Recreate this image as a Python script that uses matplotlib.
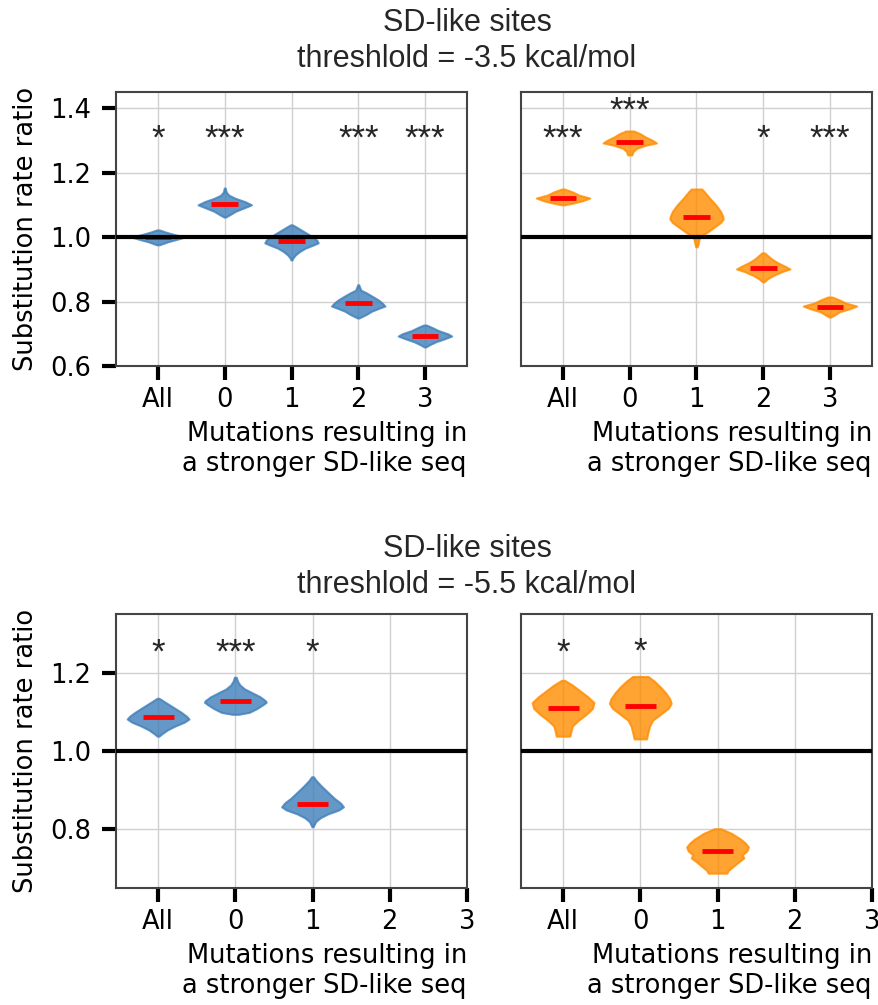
import numpy as np
import matplotlib
matplotlib.use('Agg')
import matplotlib.pyplot as plt

plt.rcParams['font.family'] = ['DejaVu Sans']

labels = ['All', '0', '1', '2', '3']
blue = '#3f7fba'
orange = '#ff8c00'

# violin outlines: y values and relative half widths
t35_blue_y = [[1.022, 1.015, 1.008, 1.0, 0.993, 0.985, 0.976],
              [1.152, 1.14, 1.13, 1.12, 1.11, 1.10, 1.09, 1.08, 1.07, 1.062],
              [1.038, 1.03, 1.02, 1.01, 1.0, 0.99, 0.982, 0.975, 0.965, 0.955, 0.945, 0.935, 0.929],
              [0.852, 0.845, 0.835, 0.827, 0.815, 0.805, 0.795, 0.786, 0.78, 0.77, 0.76, 0.749],
              [0.727, 0.72, 0.71, 0.70, 0.693, 0.685, 0.675, 0.665, 0.659]]
t35_blue_w = [[0.05, 0.3, 0.6, 1.0, 0.7, 0.35, 0.05],
              [0.02, 0.05, 0.15, 0.4, 0.75, 1.0, 0.7, 0.4, 0.2, 0.03],
              [0.03, 0.2, 0.4, 0.6, 0.8, 0.95, 1.0, 0.8, 0.5, 0.3, 0.15, 0.05, 0.02],
              [0.02, 0.05, 0.1, 0.3, 0.55, 0.75, 0.9, 1.0, 0.8, 0.5, 0.3, 0.03],
              [0.05, 0.25, 0.5, 0.85, 1.0, 0.75, 0.4, 0.15, 0.03]]
t35_blue_med = [1.0, 1.103, 0.988, 0.796, 0.693]
t35_blue_stars = ['*', '***', '', '***', '***']

t35_orange_y = [[1.149, 1.14, 1.13, 1.121, 1.112, 1.105, 1.10],
                [1.329, 1.32, 1.31, 1.30, 1.292, 1.285, 1.275, 1.265, 1.255],
                [1.149, 1.14, 1.12, 1.10, 1.08, 1.065, 1.056, 1.045, 1.03, 1.015, 1.005, 0.995, 0.98, 0.97],
                [0.951, 0.94, 0.93, 0.92, 0.91, 0.901, 0.893, 0.88, 0.87, 0.861],
                [0.814, 0.805, 0.795, 0.786, 0.778, 0.768, 0.76, 0.752]]
t35_orange_w = [[0.05, 0.35, 0.6, 1.0, 0.7, 0.35, 0.05],
                [0.15, 0.4, 0.6, 0.85, 1.0, 0.6, 0.25, 0.12, 0.08],
                [0.2, 0.3, 0.5, 0.72, 0.9, 0.98, 1.0, 0.9, 0.65, 0.4, 0.2, 0.1, 0.06, 0.03],
                [0.05, 0.2, 0.35, 0.55, 0.8, 1.0, 0.7, 0.35, 0.15, 0.03],
                [0.08, 0.35, 0.6, 1.0, 0.75, 0.35, 0.2, 0.03]]
t35_orange_med = [1.121, 1.295, 1.062, 0.904, 0.783]
t35_orange_stars = ['***', '***', '', '*', '***']

t55_blue_y = [[1.136, 1.13, 1.12, 1.11, 1.10, 1.09, 1.083, 1.075, 1.065, 1.055, 1.045, 1.039],
              [1.19, 1.18, 1.17, 1.16, 1.15, 1.14, 1.13, 1.126, 1.12, 1.11, 1.10, 1.095],
              [0.935, 0.925, 0.91, 0.895, 0.88, 0.868, 0.858, 0.85, 0.84, 0.83, 0.82, 0.807]]
t55_blue_w = [[0.03, 0.15, 0.35, 0.55, 0.75, 0.92, 1.0, 0.85, 0.55, 0.3, 0.12, 0.03],
              [0.03, 0.07, 0.15, 0.3, 0.55, 0.8, 0.97, 1.0, 0.9, 0.7, 0.45, 0.1],
              [0.03, 0.12, 0.3, 0.5, 0.7, 0.9, 1.0, 0.85, 0.5, 0.25, 0.1, 0.02]]
t55_blue_med = [1.088, 1.128, 0.866]
t55_blue_stars = ['*', '***', '*']

t55_orange_y = [[1.182, 1.17, 1.155, 1.14, 1.125, 1.11, 1.095, 1.08, 1.065, 1.05, 1.039],
                [1.192, 1.18, 1.165, 1.15, 1.135, 1.123, 1.11, 1.095, 1.08, 1.065, 1.05, 1.032],
                [0.802, 0.79, 0.775, 0.765, 0.755, 0.745, 0.735, 0.727, 0.718, 0.705, 0.695, 0.688]]
t55_orange_w = [[0.05, 0.3, 0.55, 0.8, 1.0, 0.95, 0.75, 0.5, 0.3, 0.25, 0.22],
                [0.25, 0.45, 0.65, 0.82, 0.95, 1.0, 0.9, 0.65, 0.4, 0.3, 0.25, 0.2],
                [0.1, 0.45, 0.75, 0.9, 1.0, 0.95, 0.8, 0.85, 0.7, 0.5, 0.35, 0.3]]
t55_orange_med = [1.110, 1.116, 0.744]
t55_orange_stars = ['*', '*', '']


def draw_violins(ax, ys, ws, meds, color):
    stats = []
    for y, w, m in zip(ys, ws, meds):
        stats.append({'coords': np.array(y), 'vals': np.array(w), 'mean': m,
                      'median': m, 'min': min(y), 'max': max(y)})
    parts = ax.violin(stats, positions=range(len(stats)), widths=0.8,
                      showmeans=False, showextrema=False, showmedians=True)
    for pc in parts['bodies']:
        pc.set_facecolor(color)
        pc.set_edgecolor(color)
        pc.set_alpha(0.8)
        pc.set_linewidth(1.5)
        pc.set_zorder(2)
    parts['cmedians'].set_color('red')
    parts['cmedians'].set_linewidth(3.5)
    parts['cmedians'].set_zorder(3)


def add_stars(ax, ys, stars, base):
    for i, (y, s) in enumerate(zip(ys, stars)):
        if s:
            ax.text(i, max(base, max(y) + 0.062), s, ha='center', va='center',
                    fontsize=25, family='Liberation Sans', color='#262626')


def style_axis(ax, left):
    ax.grid(True, color='#d0d0d0', lw=1)
    ax.set_axisbelow(True)
    for sp in ax.spines.values():
        sp.set_color('#444444')
        sp.set_linewidth(1.5)
    ax.tick_params(axis='both', length=10, width=3, color='black', labelsize=18.5)
    ax.tick_params(axis='x', pad=5)
    ax.tick_params(axis='y', pad=8)
    ax.axhline(1.0, color='black', lw=3, zorder=4)
    ax.set_xticks(range(5))
    ax.set_xticklabels(labels)
    ax.set_xlabel('Mutations resulting in\na stronger SD-like seq', fontsize=18.5,
                  loc='right', labelpad=6)
    if left:
        ax.set_ylabel('Substitution rate ratio', fontsize=18.5, labelpad=8)
    else:
        ax.tick_params(axis='y', left=False, labelleft=False)


fig = plt.figure(figsize=(8.79, 10.05), dpi=100)
w = 351 / 879
h = 274 / 1005
ax1 = fig.add_axes([116 / 879, 1 - 366 / 1005, w, h])
ax2 = fig.add_axes([521 / 879, 1 - 366 / 1005, w, h])
ax3 = fig.add_axes([116 / 879, 1 - 888 / 1005, w, h])
ax4 = fig.add_axes([521 / 879, 1 - 888 / 1005, w, h])

draw_violins(ax1, t35_blue_y, t35_blue_w, t35_blue_med, blue)
draw_violins(ax2, t35_orange_y, t35_orange_w, t35_orange_med, orange)
draw_violins(ax3, t55_blue_y, t55_blue_w, t55_blue_med, blue)
draw_violins(ax4, t55_orange_y, t55_orange_w, t55_orange_med, orange)

add_stars(ax1, t35_blue_y, t35_blue_stars, 1.305)
add_stars(ax2, t35_orange_y, t35_orange_stars, 1.305)
add_stars(ax3, t55_blue_y, t55_blue_stars, 1.253)
add_stars(ax4, t55_orange_y, t55_orange_stars, 1.253)

for ax, left in [(ax1, True), (ax2, False), (ax3, True), (ax4, False)]:
    style_axis(ax, left)

for ax in [ax1, ax2]:
    ax.set_ylim(0.6, 1.45)
    ax.set_yticks([0.6, 0.8, 1.0, 1.2, 1.4])
    ax.set_xlim(-0.63, 4.63)
for ax in [ax3, ax4]:
    ax.set_ylim(0.65, 1.352)
    ax.set_yticks([0.8, 1.0, 1.2])
    ax.set_xlim(-0.545, 4.0)

fig.text(467 / 879, 1 - 8 / 1005, 'SD-like sites\nthreshlold = -3.5 kcal/mol',
         ha='center', va='top', fontsize=22, family='Liberation Sans',
         color='#262626', linespacing=1.25)
fig.text(467 / 879, 1 - 534 / 1005, 'SD-like sites\nthreshlold = -5.5 kcal/mol',
         ha='center', va='top', fontsize=22, family='Liberation Sans',
         color='#262626', linespacing=1.25)

fig.savefig('out.png', dpi=100)
